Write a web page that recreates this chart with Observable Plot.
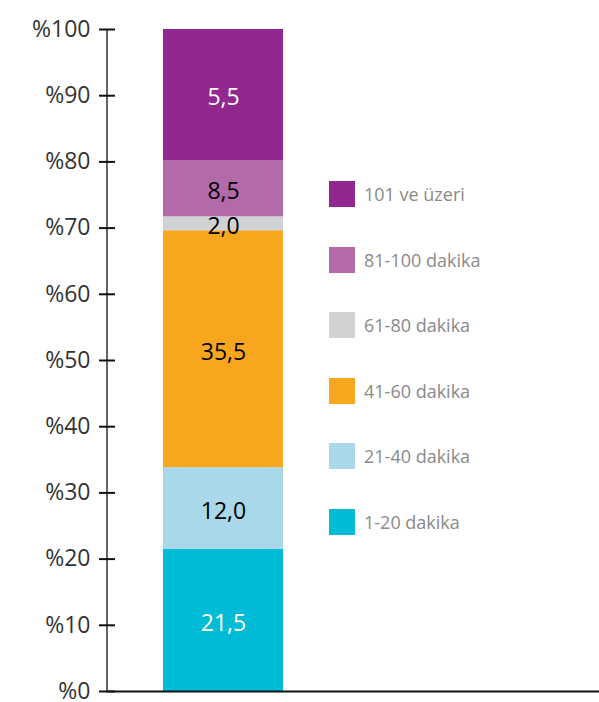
<!DOCTYPE html>
<html>
<head>
<meta charset="utf-8">
<script src="https://cdn.jsdelivr.net/npm/d3@7"></script>
<script src="https://cdn.jsdelivr.net/npm/@observablehq/plot@0.6"></script>
<style>
  html, body { margin: 0; padding: 0; background: #fff; }
  #wrap { position: relative; width: 599px; height: 702px; font-family: "Open Sans", sans-serif; }
  #legend { position: absolute; left: 329px; top: 181px; }
  .item { display: flex; align-items: center; height: 26px; margin-bottom: 39.6px; }
  .sw { width: 26px; height: 26px; margin-right: 9px; }
  .lt { font-size: 18px; color: #8a8a8a; white-space: nowrap; }
</style>
</head>
<body>
<div id="wrap"></div>
<script>
// Categories (bottom to top of the stack)
const categories = ["1-20 dakika", "21-40 dakika", "41-60 dakika", "61-80 dakika", "81-100 dakika", "101 ve üzeri"];
// Printed values on the segments
const values = [21.5, 12.0, 35.5, 2.0, 8.5, 5.5];
// Segment heights as drawn in the picture (percentage points)
const heights = [21.5, 12.3, 35.8, 2.1, 8.5, 19.8];
// Y tick values and labels
const yTicks = [0, 10, 20, 30, 40, 50, 60, 70, 80, 90, 100];
const yTickLabels = yTicks.map(t => "%" + t);
// Palette
const colors = ["#00bbd5", "#a8d8e9", "#f8a61e", "#d0d2d3", "#b36aa9", "#92278f"];
const whiteLabel = ["1-20 dakika", "101 ve üzeri"];

const data = categories.map((c, i) => ({
  bar: "Toplam",
  cat: c,
  h: heights[i],
  label: values[i].toFixed(1).replace(".", ",")
}));

const axisLine = (index, scales, vals, dims) => {
  const x = dims.marginLeft;
  return d3.create("svg:line")
    .attr("x1", x).attr("x2", x)
    .attr("y1", scales.y(0)).attr("y2", scales.y(100))
    .attr("stroke", "#111").attr("stroke-width", 1.3)
    .node();
};

const plot = Plot.plot({
  width: 599,
  height: 702,
  marginLeft: 107,
  marginRight: 0,
  marginTop: 29,
  marginBottom: 11,
  style: { fontFamily: "Open Sans, sans-serif", fontSize: "23px", background: "transparent" },
  x: { type: "band", domain: ["Toplam"], range: [163, 283], padding: 0, axis: null },
  y: { domain: [0, 100], axis: null },
  color: { domain: categories, range: colors },
  marks: [
    Plot.barY(data, Plot.stackY({ x: "bar", y: "h", fill: "cat", inset: 0 })),
    Plot.text(data, Plot.stackY({ x: "bar", y: "h", text: d => whiteLabel.includes(d.cat) ? d.label : "", fill: "white", fontSize: 23, dy: 3 })),
    Plot.text(data, Plot.stackY({ x: "bar", y: "h", text: d => whiteLabel.includes(d.cat) ? "" : d.label, fill: "black", fontSize: 23, dy: 3 })),
    Plot.axisY({ ticks: yTicks, tickFormat: d => yTickLabels[yTicks.indexOf(d)], tickSize: 8, tickPadding: 9, stroke: "#111", strokeWidth: 2, fill: "#333", fontSize: 23, label: null }),
    Plot.axisY({ ticks: yTicks, tickSize: -8, stroke: "#111", strokeWidth: 2, fill: "none", label: null }),
    axisLine,
    Plot.ruleY([0], { stroke: "#111", strokeWidth: 2 })
  ]
});

const wrap = document.getElementById("wrap");
wrap.appendChild(plot);

const legend = document.createElement("div");
legend.id = "legend";
for (let i = categories.length - 1; i >= 0; i--) {
  const item = document.createElement("div");
  item.className = "item";
  const sw = document.createElement("div");
  sw.className = "sw";
  sw.style.background = colors[i];
  const lt = document.createElement("span");
  lt.className = "lt";
  lt.textContent = categories[i];
  item.appendChild(sw);
  item.appendChild(lt);
  legend.appendChild(item);
}
wrap.appendChild(legend);
</script>
</body>
</html>
